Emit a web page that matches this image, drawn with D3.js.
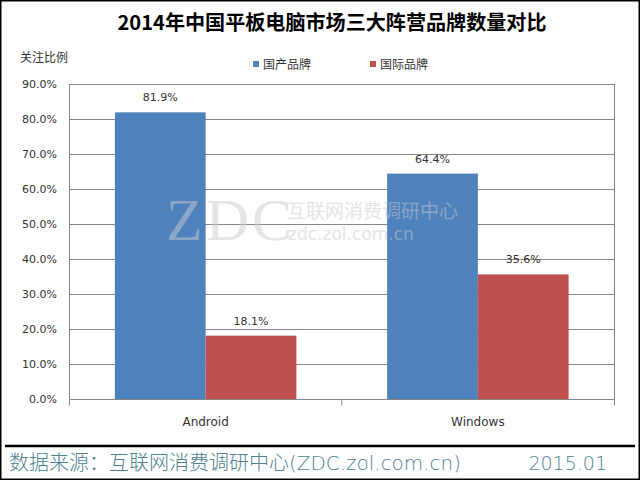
<!DOCTYPE html>
<html><head><meta charset="utf-8">
<script src="https://cdn.jsdelivr.net/npm/d3@7"></script>
<style>body{margin:0;background:#fff}svg{display:block}</style>
</head><body>
<svg id="c" width="640" height="480"></svg>
<script>
const categories = ["Android", "Windows"];
const seriesNames = ["国产品牌", "国际品牌"];
const domestic = [81.9, 64.4];
const international = [18.1, 35.6];
const yTicks = [0, 10, 20, 30, 40, 50, 60, 70, 80, 90];
const colors = ["#4f81bd", "#c0504d"];

const svg = d3.select("#c");
const fontCN = "'Noto Sans CJK SC', sans-serif";
const fontNum = "'DejaVu Sans', sans-serif";

svg.append("rect").attr("x",0.75).attr("y",0.75).attr("width",638.5).attr("height",478.5)
  .attr("fill","#fff").attr("stroke","#000").attr("stroke-width",1.5);

const L = 69.5, R = 614, T = 84, B = 399;
const x0 = d3.scaleBand().domain(categories).range([L, R]).paddingInner(0).paddingOuter(0);
const x1 = d3.scaleBand().domain(seriesNames).range([0, x0.bandwidth()]).paddingInner(0).paddingOuter(0.5);
const y = d3.scaleLinear().domain([0, 90]).range([B, T]);

// gridlines
svg.append("g").selectAll("line").data(yTicks.filter(d=>d>0)).join("line")
  .attr("x1", L).attr("x2", R).attr("y1", d=>Math.round(y(d))+0.5).attr("y2", d=>Math.round(y(d))+0.5)
  .attr("stroke", "#868686").attr("stroke-width", 1);
svg.append("line").attr("x1",L).attr("x2",L).attr("y1",T).attr("y2",B).attr("stroke","#868686");
svg.append("line").attr("x1",R+0.5).attr("x2",R+0.5).attr("y1",T).attr("y2",B).attr("stroke","#868686");

const data = categories.map((c,i)=>({cat:c, vals:[domestic[i], international[i]]}));
const groups = svg.append("g").selectAll("g").data(data).join("g")
  .attr("transform", d=>`translate(${x0(d.cat)},0)`);
groups.selectAll("rect").data(d=>d.vals.map((v,j)=>({v, s:seriesNames[j], j}))).join("rect")
  .attr("x", d=>x1(d.s)).attr("width", x1.bandwidth())
  .attr("y", d=>y(d.v)).attr("height", d=>B - y(d.v))
  .attr("fill", d=>colors[d.j]);
groups.selectAll("text").data(d=>d.vals.map((v,j)=>({v, s:seriesNames[j], j}))).join("text")
  .attr("x", d=>x1(d.s)+x1.bandwidth()/2).attr("y", d=>y(d.v)-11)
  .attr("text-anchor","middle").attr("font-family",fontNum).attr("font-size",11)
  .attr("fill","#333").text(d=>d.v.toFixed(1)+"%");

// watermark (over bars)
const wm = svg.append("g").attr("opacity",0.5);
wm.append("text").attr("x",166).attr("y",240).attr("font-family","'Liberation Serif', serif")
  .attr("font-size",60).attr("fill","#c8ccd4").attr("letter-spacing",3).text("ZDC");
wm.append("text").attr("x",287).attr("y",218).attr("font-family",fontCN)
  .attr("font-size",19).attr("fill","#c8ccd4").text("互联网消费调研中心");
wm.append("text").attr("x",288).attr("y",240).attr("font-family",fontNum)
  .attr("font-size",17).attr("fill","#c8ccd4").text("zdc.zol.com.cn");

// x axis
const xAxis = svg.append("g").attr("transform",`translate(0,${B+0.5})`);
xAxis.append("line").attr("x1",L).attr("x2",R+0.5).attr("stroke","#868686");
xAxis.selectAll("line.t").data([L, x0(categories[1]), R+0.5]).join("line").attr("class","t")
  .attr("x1",d=>d).attr("x2",d=>d).attr("y1",0).attr("y2",6).attr("stroke","#868686");
xAxis.selectAll("text").data(categories).join("text")
  .attr("x", d=>x0(d)+x0.bandwidth()/2).attr("y", 26)
  .attr("text-anchor","middle").attr("font-family",fontNum).attr("font-size",12)
  .attr("fill","#333").text(d=>d);

// y axis labels
svg.append("g").selectAll("text").data(yTicks).join("text")
  .attr("x", 57).attr("y", d=>y(d)+4).attr("text-anchor","end")
  .attr("font-family",fontNum).attr("font-size",11).attr("fill","#333")
  .text(d=>d3.format(".1f")(d)+"%");

// title
svg.append("text").attr("x",332).attr("y",30).attr("text-anchor","middle")
  .attr("font-family",fontCN).attr("font-weight","bold").attr("font-size",20)
  .attr("textLength",429).attr("lengthAdjust","spacingAndGlyphs")
  .attr("fill","#000").text("2014年中国平板电脑市场三大阵营品牌数量对比");

svg.append("text").attr("x",20).attr("y",62).attr("font-family",fontCN).attr("font-size",12)
  .attr("fill","#333").text("关注比例");

// legend
const leg = svg.append("g").selectAll("g").data(seriesNames).join("g")
  .attr("transform",(d,i)=>`translate(${[253,370][i]},0)`);
leg.append("rect").attr("x",0).attr("y",61).attr("width",6).attr("height",6).attr("fill",(d,i)=>colors[i]);
leg.append("text").attr("x",10).attr("y",69).attr("font-family",fontCN).attr("font-size",12)
  .attr("fill","#333").text(d=>d);

// footer
svg.append("line").attr("x1",5).attr("x2",635).attr("y1",446).attr("y2",446)
  .attr("stroke","#000").attr("stroke-width",2.5);
const ft = svg.append("text").attr("x",9).attr("y",470).attr("fill","#4e7f8e");
ft.append("tspan").attr("font-family",fontCN).attr("font-size",20).attr("font-weight",300)
  .text("数据来源：互联网消费调研中心");
ft.append("tspan").attr("font-family",fontNum).attr("font-size",19).attr("font-weight",300)
  .attr("textLength",172).attr("lengthAdjust","spacingAndGlyphs").text("(ZDC.zol.com.cn)");
svg.append("text").attr("x",607).attr("y",470).attr("text-anchor","end").attr("font-family",fontNum)
  .attr("font-size",19).attr("font-weight",300).attr("fill","#4e7f8e").text("2015.01");
</script>
</body></html>
